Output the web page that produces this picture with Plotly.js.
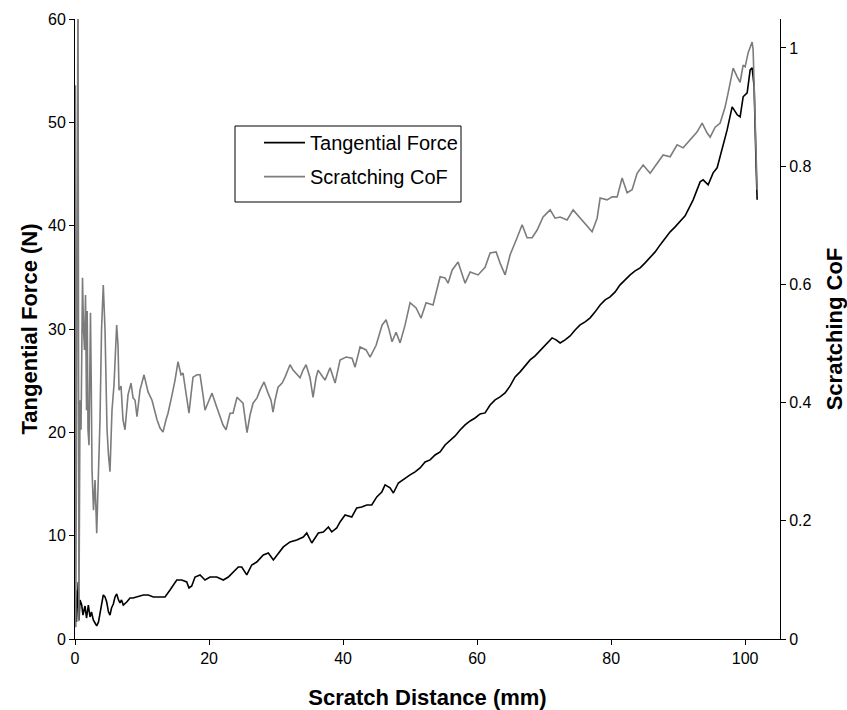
<!DOCTYPE html>
<html>
<head>
<meta charset="utf-8">
<script src="https://cdn.plot.ly/plotly-3.0.1.min.js"></script>
<style>
  html, body { margin: 0; padding: 0; background: #fff; }
  #chart { width: 847px; height: 710px; }
</style>
</head>
<body>
<div id="chart"></div>
<script>
// Scratch test: tangential force (left axis) and scratching coefficient of friction (right axis)

const forceDistance = [
  0.00, 0.12, 0.22, 0.37, 0.49, 0.60, 0.75, 1.00, 1.19, 1.49,
  1.72, 1.99, 2.24, 2.46, 2.73, 2.99, 3.24, 3.51, 3.73, 3.96,
  4.22, 4.48, 4.73, 5.00, 5.22, 5.45, 5.72, 5.97, 6.22, 6.49,
  6.72, 6.94, 7.21, 7.72, 8.21, 8.66, 9.21, 9.70, 10.19, 10.94,
  11.69, 12.69, 13.43, 14.18, 14.63, 15.18, 15.93, 16.67, 17.01, 17.42,
  17.91, 18.66, 19.40, 20.15, 21.15, 22.13, 22.88, 23.63, 24.37, 24.88,
  25.63, 26.37, 27.12, 28.10, 28.85, 29.60, 30.34, 31.09, 32.09, 33.09,
  34.07, 34.58, 35.33, 36.31, 37.06, 37.81, 38.31, 39.06, 39.55, 40.30,
  41.30, 42.04, 42.79, 43.54, 44.28, 45.03, 45.78, 46.27, 47.01, 47.51,
  48.25, 49.25, 50.00, 50.75, 51.49, 52.24, 52.99, 53.73, 54.48, 55.22,
  55.97, 56.72, 57.46, 58.21, 58.96, 59.70, 60.45, 61.19, 61.94, 62.69,
  63.43, 64.18, 64.93, 65.67, 66.42, 67.16, 67.91, 68.66, 69.10, 70.15,
  71.19, 71.79, 72.39, 73.13, 73.88, 74.63, 75.37, 76.12, 76.87, 77.61,
  78.36, 79.10, 79.85, 80.60, 81.34, 82.09, 82.84, 83.58, 84.33, 85.07,
  85.82, 86.57, 87.31, 88.06, 88.81, 89.55, 90.30, 91.04, 91.49, 92.24,
  93.28, 93.73, 94.48, 95.22, 95.82, 96.57, 97.31, 98.06, 98.81, 99.25,
  99.70, 100.30, 100.75, 101.04, 101.34, 101.64, 101.79
];
const tangentialForce = [
  2.81, 4.74, 1.65, 4.26, 5.52, 1.84, 3.78, 3.29, 2.32, 3.19,
  2.03, 3.29, 2.13, 2.61, 1.84, 1.55, 1.26, 1.65, 2.61, 3.49,
  4.26, 4.07, 3.58, 2.61, 2.32, 3.00, 3.39, 4.07, 4.36, 3.78,
  3.49, 3.78, 3.29, 3.58, 3.97, 3.97, 4.07, 4.16, 4.26, 4.26,
  4.07, 4.07, 4.07, 4.74, 5.23, 5.71, 5.71, 5.52, 4.94, 5.13,
  6.00, 6.20, 5.71, 6.00, 6.00, 5.71, 6.00, 6.49, 6.97, 6.97,
  6.20, 7.16, 7.45, 8.13, 8.33, 7.65, 8.33, 8.91, 9.39, 9.58,
  9.87, 10.26, 9.29, 10.26, 10.36, 10.84, 10.36, 10.75, 11.33, 12.00,
  11.81, 12.68, 12.78, 12.97, 12.97, 13.75, 14.23, 14.91, 14.62, 14.13,
  15.10, 15.59, 15.88, 16.17, 16.55, 17.13, 17.33, 17.81, 18.10, 18.78,
  19.26, 19.65, 20.23, 20.72, 21.10, 21.39, 21.78, 21.88, 22.65, 23.14,
  23.43, 23.81, 24.49, 25.36, 25.85, 26.43, 27.01, 27.40, 27.69, 28.46,
  29.14, 28.95, 28.65, 28.95, 29.33, 29.91, 30.40, 30.69, 31.08, 31.66,
  32.33, 32.82, 33.11, 33.59, 34.27, 34.75, 35.24, 35.62, 35.91, 36.40,
  36.88, 37.46, 38.14, 38.82, 39.40, 39.88, 40.37, 40.95, 41.53, 42.50,
  44.24, 44.43, 43.95, 45.11, 45.60, 47.34, 49.27, 51.50, 50.73, 50.53,
  52.47, 52.86, 55.08, 55.28, 53.44, 45.69, 42.50
];

const cofDistance = [
  0.00, 0.05, 0.12, 0.45, 0.58, 0.75, 0.90, 1.12, 1.27, 1.42,
  1.57, 1.72, 1.82, 1.94, 2.09, 2.31, 2.42, 2.54, 2.76, 2.99,
  3.24, 3.43, 3.73, 3.96, 4.22, 4.48, 4.63, 4.78, 5.00, 5.22,
  5.52, 5.82, 6.22, 6.42, 6.57, 6.87, 7.16, 7.46, 7.91, 8.36,
  8.66, 8.96, 9.25, 9.70, 10.30, 10.90, 11.49, 11.94, 12.24, 12.69,
  13.13, 13.58, 13.88, 14.48, 14.93, 15.37, 15.82, 16.12, 16.57, 17.01,
  17.31, 17.61, 18.21, 18.66, 19.10, 19.40, 20.00, 20.45, 21.04, 21.49,
  22.09, 22.54, 23.13, 23.58, 24.18, 24.63, 25.07, 25.67, 26.12, 26.57,
  27.16, 27.61, 28.21, 28.81, 29.25, 29.55, 29.85, 30.30, 30.90, 31.34,
  32.09, 32.54, 32.99, 33.58, 34.03, 34.48, 35.07, 35.52, 35.97, 36.27,
  36.87, 37.31, 38.06, 38.81, 39.55, 40.45, 41.34, 41.79, 42.54, 43.43,
  44.03, 44.93, 45.82, 46.42, 46.87, 47.31, 47.91, 48.51, 49.25, 50.00,
  50.90, 51.64, 52.39, 53.43, 54.48, 55.22, 55.67, 56.27, 57.16, 58.21,
  58.96, 60.15, 61.19, 61.94, 62.84, 63.43, 64.18, 64.93, 65.97, 66.72,
  67.46, 68.21, 68.96, 69.85, 70.90, 71.64, 72.39, 73.43, 74.33, 75.37,
  76.27, 77.16, 77.91, 78.36, 79.40, 80.15, 80.90, 81.64, 82.39, 83.13,
  83.88, 84.78, 85.82, 86.87, 87.76, 88.81, 89.85, 90.75, 91.79, 92.84,
  93.58, 94.33, 94.78, 95.52, 96.27, 97.01, 97.46, 98.21, 98.81, 99.25,
  99.70, 100.00, 100.45, 101.04, 101.19, 101.34, 101.64, 101.79
];
const scratchingCoF = [
  0.020, 0.937, 0.020, 1.120, 0.030, 0.404, 0.354, 0.611, 0.523, 0.489,
  0.582, 0.387, 0.555, 0.354, 0.328, 0.552, 0.438, 0.286, 0.218, 0.269,
  0.179, 0.252, 0.371, 0.523, 0.599, 0.523, 0.430, 0.354, 0.311, 0.283,
  0.387, 0.430, 0.531, 0.497, 0.421, 0.428, 0.371, 0.354, 0.413, 0.433,
  0.408, 0.404, 0.376, 0.421, 0.447, 0.418, 0.404, 0.384, 0.371, 0.357,
  0.350, 0.371, 0.382, 0.413, 0.438, 0.469, 0.447, 0.450, 0.413, 0.382,
  0.413, 0.443, 0.447, 0.447, 0.413, 0.387, 0.404, 0.416, 0.396, 0.382,
  0.362, 0.354, 0.382, 0.382, 0.409, 0.404, 0.399, 0.349, 0.379, 0.399,
  0.408, 0.421, 0.435, 0.416, 0.404, 0.384, 0.404, 0.426, 0.433, 0.443,
  0.464, 0.455, 0.450, 0.442, 0.455, 0.464, 0.442, 0.409, 0.442, 0.455,
  0.445, 0.438, 0.459, 0.433, 0.472, 0.477, 0.475, 0.460, 0.494, 0.489,
  0.477, 0.497, 0.531, 0.540, 0.523, 0.503, 0.519, 0.501, 0.531, 0.569,
  0.560, 0.543, 0.569, 0.565, 0.613, 0.611, 0.602, 0.624, 0.638, 0.602,
  0.621, 0.616, 0.629, 0.653, 0.655, 0.636, 0.616, 0.650, 0.679, 0.701,
  0.679, 0.679, 0.692, 0.714, 0.726, 0.712, 0.714, 0.709, 0.726, 0.712,
  0.701, 0.689, 0.712, 0.746, 0.743, 0.748, 0.748, 0.780, 0.755, 0.760,
  0.788, 0.802, 0.788, 0.805, 0.819, 0.816, 0.836, 0.831, 0.844, 0.858,
  0.873, 0.856, 0.849, 0.866, 0.873, 0.900, 0.924, 0.966, 0.951, 0.942,
  0.971, 0.968, 0.992, 1.010, 0.997, 0.941, 0.799, 0.760
];

const font = 'Liberation Sans, Arial, Helvetica, sans-serif';

const traces = [
  {
    x: forceDistance, y: tangentialForce, name: 'Tangential Force',
    type: 'scatter', mode: 'lines', yaxis: 'y', legendgroup: 'f',
    line: { color: '#000000', width: 1.6 }
  },
  {
    x: cofDistance, y: scratchingCoF, name: 'Scratching CoF',
    type: 'scatter', mode: 'lines', yaxis: 'y2', legendgroup: 'c',
    line: { color: '#7c7c7c', width: 1.6 }
  }
];

const axisBase = {
  showgrid: false, zeroline: false, showline: true,
  linecolor: '#000', linewidth: 1,
  ticks: 'outside', ticklen: 5, tickcolor: '#000', tickwidth: 1,
  tickfont: { family: font, size: 16, color: '#000' }
};

const titleFont = { family: font, size: 22, color: '#000' };

const layout = {
  width: 847, height: 710,
  margin: { l: 75, r: 67, t: 19, b: 71 },
  paper_bgcolor: '#fff', plot_bgcolor: '#fff',
  font: { family: font, color: '#000' },
  showlegend: true,
  legend: {
    x: 0.261, y: 0.832, xanchor: 'left', yanchor: 'top',
    bgcolor: 'rgba(0,0,0,0)', borderwidth: 0,
    font: { family: font, size: 20, color: '#000' },
    tracegroupgap: 5, itemwidth: 41
  },
  shapes: [
    // frame around the legend entries
    { type: 'rect', xref: 'paper', yref: 'paper',
      x0: (235 - 75) / 705, x1: (461 - 75) / 705,
      y0: (639 - 202) / 620, y1: (639 - 126) / 620,
      line: { color: '#000', width: 1 }, fillcolor: 'rgba(0,0,0,0)' }
  ],
  xaxis: Object.assign({}, axisBase, {
    range: [0, 105.2], dtick: 20, tick0: 0,
    title: { text: '<b>Scratch Distance (mm)</b>', font: titleFont, standoff: 24 }
  }),
  yaxis: Object.assign({}, axisBase, {
    range: [0, 60], dtick: 10, tick0: 0,
    title: { text: '<b>Tangential Force (N)</b>', font: titleFont, standoff: 4 }
  }),
  yaxis2: Object.assign({}, axisBase, {
    overlaying: 'y', side: 'right', anchor: 'x',
    range: [0, 1.049], dtick: 0.2, tick0: 0,
    title: { text: '<b>Scratching CoF</b>', font: titleFont, standoff: 18 }
  })
};

Plotly.newPlot('chart', traces, layout, { displayModeBar: false, staticPlot: true });
</script>
</body>
</html>
